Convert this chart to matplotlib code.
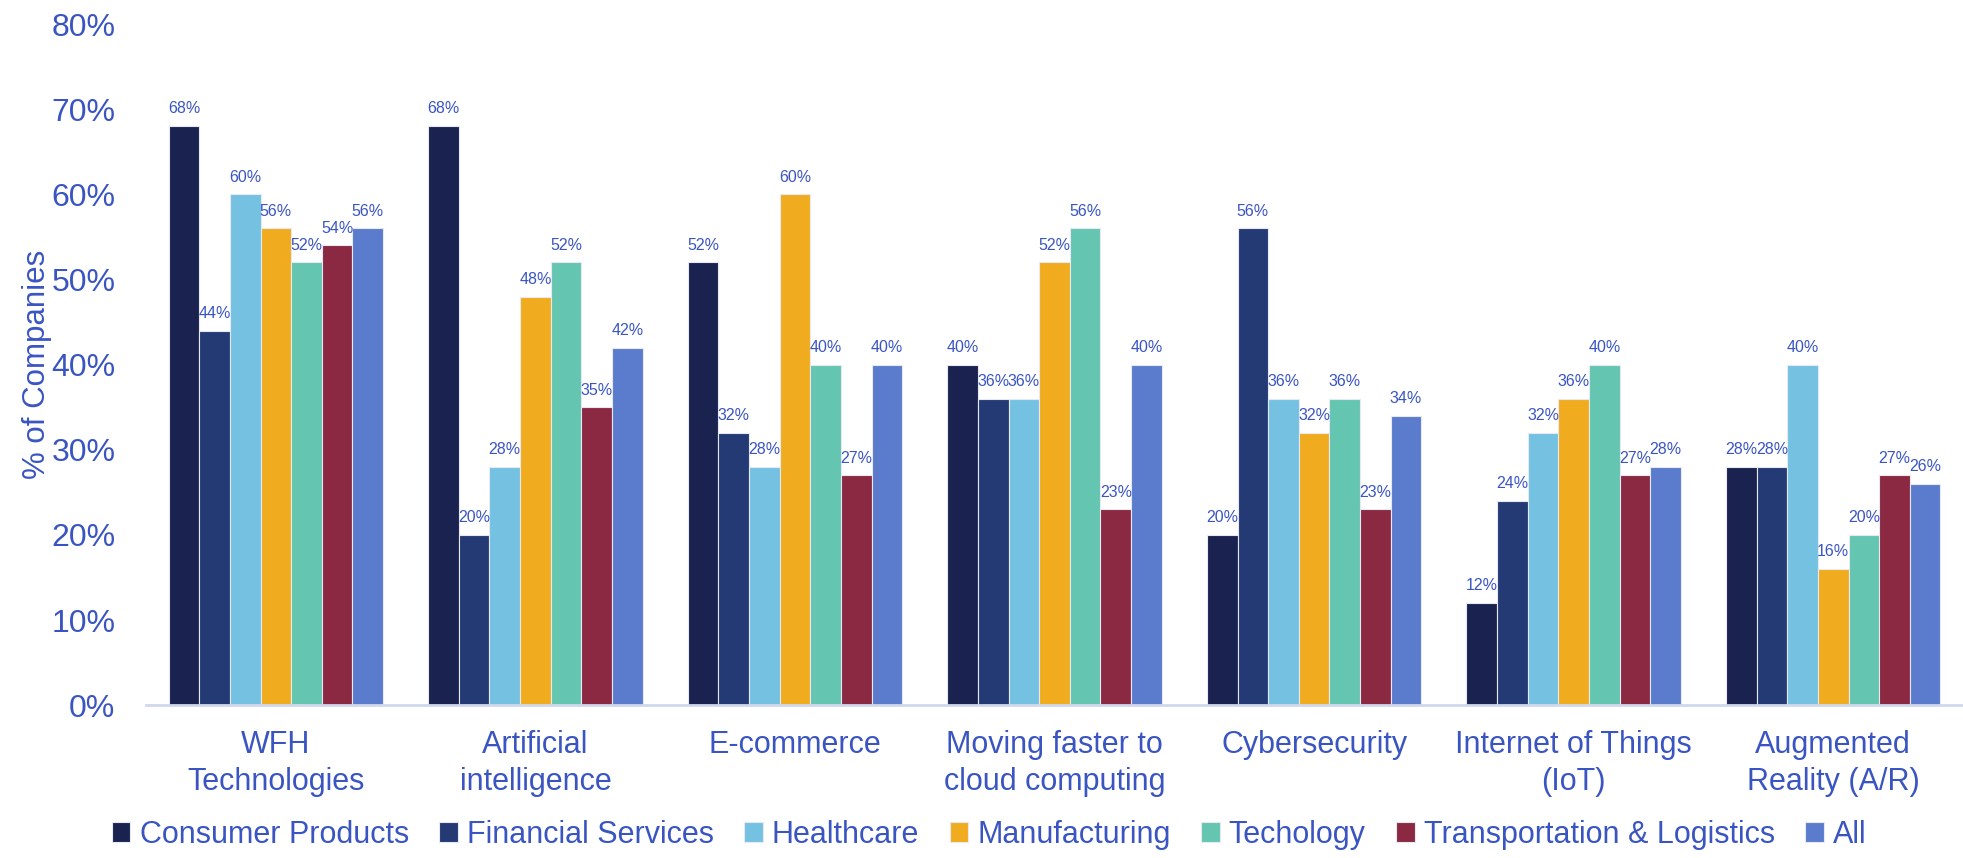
import matplotlib
matplotlib.use("Agg")
import matplotlib.pyplot as plt
import numpy as np

categories = ["WFH\nTechnologies", "Artificial\nintelligence", "E-commerce",
              "Moving faster to\ncloud computing", "Cybersecurity",
              "Internet of Things\n(IoT)", "Augmented\nReality (A/R)"]
series_names = ["Consumer Products", "Financial Services", "Healthcare",
                "Manufacturing", "Techology", "Transportation & Logistics", "All"]
consumer = [68, 68, 52, 40, 20, 12, 28]
financial = [44, 20, 32, 36, 56, 24, 28]
healthcare = [60, 28, 28, 36, 36, 32, 40]
manufacturing = [56, 48, 60, 52, 32, 36, 16]
technology = [52, 52, 40, 56, 36, 40, 20]
transport = [54, 35, 27, 23, 23, 27, 27]
all_cos = [56, 42, 40, 40, 34, 28, 26]
yticks = [0, 10, 20, 30, 40, 50, 60, 70, 80]

series = [consumer, financial, healthcare, manufacturing, technology, transport, all_cos]
colors = ["#1A2350", "#243A75", "#74C1E2", "#F0AC1E", "#64C5B1", "#8B2943", "#5B7BCC"]
text_color = "#3A55C2"

plt.rcParams['font.family'] = ['Liberation Sans', 'DejaVu Sans']

fig = plt.figure(figsize=(19.63, 8.58), dpi=100)
ax = fig.add_axes([0.0744, 0.178, 0.9256, 0.794])

n = len(series)
group_w = 0.826
bw = group_w / n
x = np.arange(len(categories))
for i, (vals, c, name) in enumerate(zip(series, colors, series_names)):
    pos = x - group_w / 2 + bw * (i + 0.5)
    bars = ax.bar(pos, vals, width=bw, color=c, edgecolor="#E6E9F2", linewidth=0.8, label=name)
    for b, v in zip(bars, vals):
        ax.annotate(f"{v}%", (b.get_x() + b.get_width() / 2, v), xytext=(0, 7),
                    textcoords="offset points", ha="center", va="bottom",
                    fontsize=11.5, color=text_color)

ax.set_xlim(-0.5, len(categories) - 0.5)
ax.set_ylim(0, 80)
ax.set_yticks(yticks)
ax.set_yticklabels([f"{t}%" for t in yticks], fontsize=23, color=text_color)
ax.set_xticks(x)
ax.set_xticklabels(categories, fontsize=22, color=text_color, linespacing=1.3)
ax.tick_params(axis="both", length=0)
ax.tick_params(axis="y", pad=22)
ax.tick_params(axis="x", pad=18)
for s in ["top", "right", "left"]:
    ax.spines[s].set_visible(False)
ax.spines["bottom"].set_color("#D0D8EE")
ax.spines["bottom"].set_linewidth(2)
ax.set_ylabel("% of Companies", fontsize=22.5, color=text_color, labelpad=8)
ax.yaxis.set_label_coords(-0.052, 0.5)

leg = fig.legend(loc="center", bbox_to_anchor=(0.504, 0.027), ncol=7, frameon=False,
                 fontsize=22, handlelength=0.6, handleheight=0.6, handletextpad=0.3,
                 columnspacing=1.0)
for t in leg.get_texts():
    t.set_color(text_color)

fig.savefig("out.png", dpi=100)
